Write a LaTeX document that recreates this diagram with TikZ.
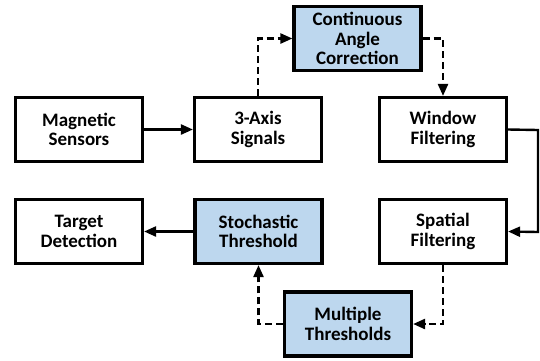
\documentclass[tikz,border=0pt]{standalone}
\usepackage{fontspec}
\setmainfont{Carlito}
\usetikzlibrary{arrows.meta}
\definecolor{boxblue}{HTML}{BDD7EE}
\begin{document}
\begin{tikzpicture}[x=1pt,y=-1pt,
  blk/.style={draw=black, line width=3.2pt, minimum width=127pt, minimum height=64pt,
    align=center, inner sep=0pt, font=\fontsize{19}{19.5}\selectfont\bfseries, fill=white},
  hl/.style={blk, fill=boxblue},
  solidarr/.style={line width=2.4pt, -{Triangle[length=12pt,width=10pt]}},
  dasharr/.style={solidarr, dash pattern=on 7pt off 4pt}]
\useasboundingbox (0,0) rectangle (540,360);
\node[blk] (mag)   at (79,129.5)  {Magnetic\\Sensors};
\node[blk] (axis)  at (258,129.5) {3-Axis\\Signals};
\node[hl]  (cont)  at (357.5,38.5) {Continuous\\Angle\\Correction};
\node[blk] (win)   at (443,129.5) {Window\\Filtering};
\node[blk] (spat)  at (443,231.5) {Spatial\\Filtering};
\node[hl]  (stoch) at (258.5,231.5) {Stochastic\\Threshold};
\node[blk] (targ)  at (79,231.5)  {Target\\Detection};
\node[hl]  (mult)  at (348,324)   {Multiple\\Thresholds};
\coordinate (r1) at (538,130);
\coordinate (r2) at (538,232);
\draw[solidarr] (mag) -- (axis);
\draw[dasharr] (axis.north) |- (cont.west);
\draw[dasharr] (cont.east) -| (win.north);
\draw[solidarr] (win.east) -- (r1) -- (r2) -- (spat.east);
\draw[dasharr] (spat.south) |- (mult.east);
\draw[dasharr] (mult.west) -| (stoch.south);
\draw[solidarr] (stoch) -- (targ);
\end{tikzpicture}
\end{document}
